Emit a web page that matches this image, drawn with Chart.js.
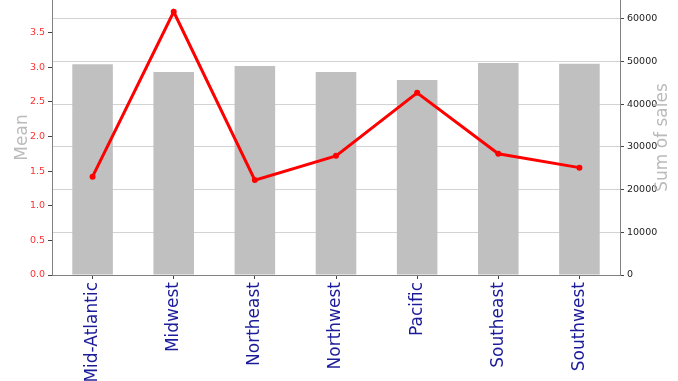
<!DOCTYPE html>
<html lang="en">
<head>
  <meta charset="UTF-8">
  <title>Mean and Sum of sales by region</title>
  <script src="https://cdn.jsdelivr.net/npm/chart.js"></script>
  <style>
    html, body {
      margin: 0;
      padding: 0;
      background: #fff;
      overflow: hidden;
    }
    #chart {
      display: block;
    }
  </style>
</head>
<body>
  <canvas id="chart" width="678" height="381"></canvas>

  <script>
    // Data
    const regions = ['Mid-Atlantic', 'Midwest', 'Northeast', 'Northwest', 'Pacific', 'Southeast', 'Southwest'];
    const meanValues = [1.42, 3.80, 1.37, 1.72, 2.63, 1.75, 1.55];
    const salesSums = [49400, 47600, 49000, 47600, 45700, 49700, 49500];

    // Tick values for the two value axes
    const meanTicks = [0, 0.5, 1.0, 1.5, 2.0, 2.5, 3.0, 3.5];
    const salesTicks = [0, 10000, 20000, 30000, 40000, 50000, 60000];

    const FONT = "'DejaVu Sans', sans-serif";
    const AXIS_GREY = '#808080';
    const TITLE_GREY = '#bbbbbb';

    // force the tick list (Chart.js otherwise spreads ticks evenly up to max)
    const fixTicks = values => scale => {
      scale.ticks = values.map(v => ({ value: v }));
    };

    // Chart.js turns a right-hand title the other way round, so draw it
    // here reading bottom to top like the left one
    const rightTitle = {
      id: 'rightTitle',
      afterDraw(chart) {
        const scale = chart.scales.ySales;
        const ctx = chart.ctx;
        ctx.save();
        ctx.translate(scale.right - 15, (chart.chartArea.top + chart.chartArea.bottom) / 2);
        ctx.rotate(-Math.PI / 2);
        ctx.font = `17px ${FONT}`;
        ctx.fillStyle = TITLE_GREY;
        ctx.textAlign = 'center';
        ctx.textBaseline = 'middle';
        ctx.fillText('Sum of sales', 0, 0);
        ctx.restore();
      }
    };

    const chart = new Chart(document.getElementById('chart'), {
      data: {
        labels: regions,
        datasets: [
          {
            type: 'line',
            label: 'Mean',
            data: meanValues,
            yAxisID: 'yMean',
            borderColor: '#ff0000',
            backgroundColor: '#ff0000',
            borderWidth: 3,
            pointRadius: 3,
            pointBorderWidth: 0,
            tension: 0,
            clip: false,
            order: 1
          },
          {
            type: 'bar',
            label: 'Sum of sales',
            data: salesSums,
            yAxisID: 'ySales',
            backgroundColor: '#c0c0c0',
            barPercentage: 0.5,
            categoryPercentage: 1.0,
            order: 2
          }
        ]
      },
      options: {
        responsive: false,
        animation: false,
        layout: { padding: 0, autoPadding: false },
        plugins: {
          legend: { display: false },
          tooltip: { enabled: false }
        },
        scales: {
          x: {
            offset: true,
            grid: {
              display: true,
              drawOnChartArea: false,
              tickLength: 4,
              tickColor: '#444',
              offset: false
            },
            border: { color: AXIS_GREY },
            ticks: {
              color: '#1c1c9a',
              font: { family: FONT, size: 17 },
              maxRotation: 90,
              minRotation: 90,
              padding: 3
            },
            afterFit: scale => { scale.height = 106; }
          },
          yMean: {
            position: 'left',
            min: 0,
            max: 3.97,
            afterBuildTicks: fixTicks(meanTicks),
            grid: {
              drawOnChartArea: false,
              tickLength: 4,
              tickColor: '#444'
            },
            border: { color: AXIS_GREY },
            ticks: {
              color: '#ff3030',
              font: { family: FONT, size: 9.5 },
              padding: 3,
              callback: v => v.toFixed(1)
            },
            title: {
              display: true,
              text: 'Mean',
              color: TITLE_GREY,
              font: { family: FONT, size: 17 },
              padding: { top: 12, bottom: 0 }
            },
            afterFit: scale => {
              scale.width = 52;
              scale.paddingTop = 0;
              scale.paddingBottom = 0;
            }
          },
          ySales: {
            position: 'right',
            min: 0,
            max: 64450,
            afterBuildTicks: fixTicks(salesTicks),
            grid: {
              drawOnChartArea: true,
              color: '#d3d3d3',
              lineWidth: 1,
              tickLength: 4,
              tickColor: '#444'
            },
            border: { color: AXIS_GREY },
            ticks: {
              color: '#222',
              font: { family: FONT, size: 9.5 },
              padding: 3,
              callback: v => String(v)
            },
            title: { display: false },
            afterFit: scale => {
              scale.width = 58;
              scale.paddingTop = 0;
              scale.paddingBottom = 0;
            }
          }
        }
      },
      plugins: [rightTitle]
    });
  </script>
</body>
</html>
